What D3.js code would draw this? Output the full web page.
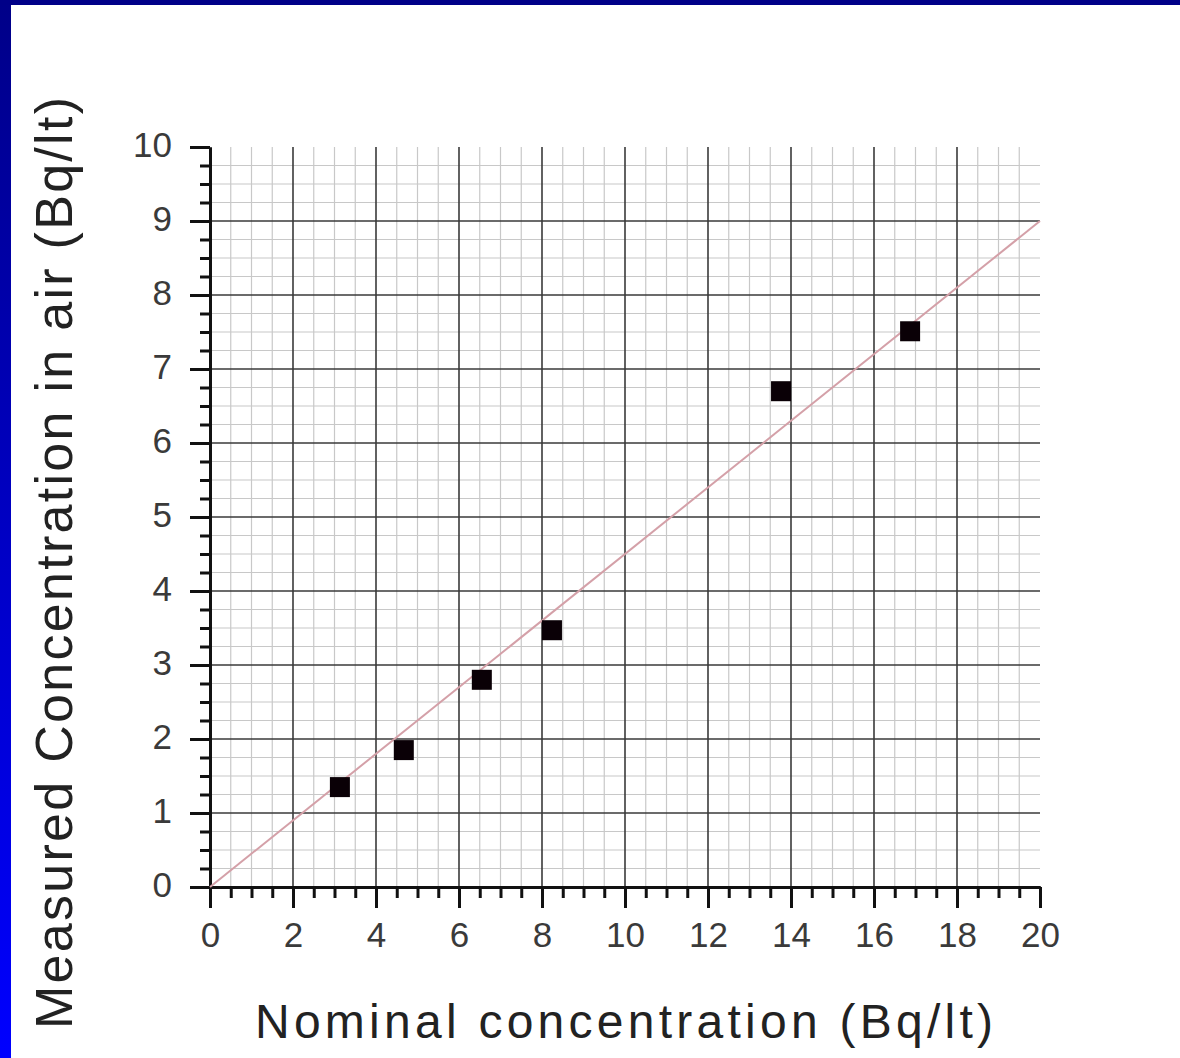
<!DOCTYPE html>
<html>
<head>
<meta charset="utf-8">
<script src="https://cdn.jsdelivr.net/npm/d3@7"></script>
<style>
  html, body { margin: 0; padding: 0; background: #fff; }
  svg { display: block; }
</style>
</head>
<body>
<div id="chart"></div>
<script>
// data
var nominal  = [3.13, 4.67, 6.55, 8.24, 13.76, 16.87];
var measured = [1.35, 1.85, 2.80, 3.47, 6.70, 7.51];
var fitLine  = [[0, 0], [20, 9]];
var xTickLabels = [0, 2, 4, 6, 8, 10, 12, 14, 16, 18, 20];
var yTickLabels = [0, 1, 2, 3, 4, 5, 6, 7, 8, 9, 10];

var W = 1180, H = 1058;
var plotLeft = 210, plotRight = 1040, plotTop = 147, plotBottom = 887;

var svg = d3.select("#chart")
  .append("svg")
    .attr("width", W)
    .attr("height", H);

// blue slide frame
var defs = svg.append("defs");
var grad = defs.append("linearGradient")
    .attr("id", "frame")
    .attr("x1", 0).attr("y1", 0).attr("x2", 0).attr("y2", 1);
grad.append("stop").attr("offset", "0%").attr("stop-color", "#000088");
grad.append("stop").attr("offset", "100%").attr("stop-color", "#0000ff");

svg.append("rect").attr("x", 0).attr("y", 0).attr("width", W).attr("height", H).attr("fill", "#fff");
svg.append("rect").attr("x", 0).attr("y", 0).attr("width", 11).attr("height", H).attr("fill", "url(#frame)");
svg.append("rect").attr("x", 0).attr("y", 0).attr("width", W).attr("height", 5).attr("fill", "#000088");

var x = d3.scaleLinear().domain([0, 20]).range([plotLeft, plotRight]);
var y = d3.scaleLinear().domain([0, 10]).range([plotBottom, plotTop]);

// grid
var grid = svg.append("g");
var xMinor = d3.range(0.5, 20, 0.5).filter(function(d) { return d % 2 != 0; });
var xMajor = d3.range(2, 20, 2);
var yMinor = d3.range(0.25, 10, 0.25).filter(function(d) { return d % 1 != 0; });
var yMajor = d3.range(1, 10, 1);

grid.selectAll(".vminor").data(xMinor).enter().append("line")
    .attr("x1", function(d) { return x(d); }).attr("x2", function(d) { return x(d); })
    .attr("y1", y(10)).attr("y2", y(0))
    .attr("stroke", "#c8c8c8").attr("stroke-width", 1.2);
grid.selectAll(".hminor").data(yMinor).enter().append("line")
    .attr("y1", function(d) { return y(d); }).attr("y2", function(d) { return y(d); })
    .attr("x1", x(0)).attr("x2", x(20))
    .attr("stroke", "#c8c8c8").attr("stroke-width", 1.2);
grid.selectAll(".vmajor").data(xMajor).enter().append("line")
    .attr("x1", function(d) { return x(d); }).attr("x2", function(d) { return x(d); })
    .attr("y1", y(10)).attr("y2", y(0))
    .attr("stroke", "#3a3a3a").attr("stroke-width", 1.6);
grid.selectAll(".hmajor").data(yMajor).enter().append("line")
    .attr("y1", function(d) { return y(d); }).attr("y2", function(d) { return y(d); })
    .attr("x1", x(0)).attr("x2", x(20))
    .attr("stroke", "#3a3a3a").attr("stroke-width", 1.6);

// axes
var xMinorAxis = d3.axisBottom(x).tickValues(d3.range(0, 20.01, 0.5)).tickSize(11).tickFormat("").tickSizeOuter(0);
var xMajorAxis = d3.axisBottom(x).tickValues(xTickLabels).tickSize(21).tickSizeOuter(0).tickPadding(14);
var yMinorAxis = d3.axisLeft(y).tickValues(d3.range(0, 10.01, 0.25)).tickSize(10).tickFormat("").tickSizeOuter(0);
var yMajorAxis = d3.axisLeft(y).tickValues(yTickLabels).tickSize(20).tickSizeOuter(0).tickPadding(18);

function styleAxis(g) {
  g.select(".domain").attr("stroke", "#111").attr("stroke-width", 3);
  g.selectAll(".tick line").attr("stroke", "#111").attr("stroke-width", 3);
  g.selectAll(".tick text")
    .attr("fill", "#3a3a3a")
    .style("font-family", "'Liberation Sans', Arial, sans-serif")
    .style("font-size", "35px");
}

svg.append("g").attr("transform", "translate(0," + plotBottom + ")").call(xMinorAxis).call(styleAxis);
svg.append("g").attr("transform", "translate(0," + plotBottom + ")").call(xMajorAxis).call(styleAxis);
svg.append("g").attr("transform", "translate(" + plotLeft + ",0)").call(yMinorAxis).call(styleAxis);
var yg = svg.append("g").attr("transform", "translate(" + plotLeft + ",0)").call(yMajorAxis).call(styleAxis);
yg.selectAll(".tick text").attr("dy", "0.28em");

// fit line
svg.append("path")
    .datum(fitLine)
    .attr("d", d3.line().x(function(d) { return x(d[0]); }).y(function(d) { return y(d[1]); }))
    .attr("fill", "none")
    .attr("stroke", "#d4a0a8")
    .attr("stroke-width", 2);

// points
var sz = 20;
svg.selectAll(".pt").data(nominal).enter().append("rect")
    .attr("x", function(d) { return x(d) - sz / 2; })
    .attr("y", function(d, i) { return y(measured[i]) - sz / 2; })
    .attr("width", sz).attr("height", sz)
    .attr("fill", "#0a0006");

// axis titles
svg.append("text")
    .attr("x", 255).attr("y", 1038)
    .attr("textLength", 738).attr("lengthAdjust", "spacing")
    .attr("fill", "#222")
    .style("font-family", "'Liberation Sans', Arial, sans-serif")
    .style("font-size", "48px")
    .text("Nominal concentration (Bq/lt)");

svg.append("text")
    .attr("transform", "translate(72,1029) rotate(-90)")
    .attr("textLength", 932).attr("lengthAdjust", "spacing")
    .attr("fill", "#222")
    .style("font-family", "'Liberation Sans', Arial, sans-serif")
    .style("font-size", "52px")
    .text("Measured Concentration in air (Bq/lt)");
</script>
</body>
</html>
